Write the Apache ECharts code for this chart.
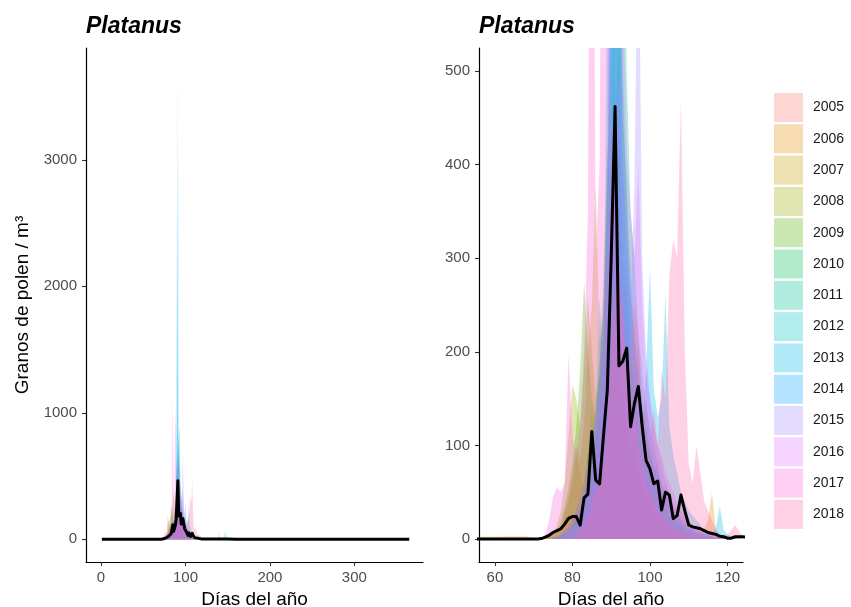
<!DOCTYPE html>
<html>
<head>
<meta charset="utf-8">
<script src="https://cdn.jsdelivr.net/npm/echarts@6/dist/echarts.min.js"></script>
<style>html,body{margin:0;padding:0;background:#fff}#c{width:851px;height:607px}</style>
</head>
<body>
<div id="c"></div>
<script>
// ---- data ----
const years = ['2005','2006','2007','2008','2009','2010','2011','2012','2013','2014','2015','2016','2017','2018'];
const yearColors = ['#F8766D','#E38900','#C49A00','#99A800','#53B400','#00BC56','#00C094','#00BFC4','#00B6EB','#06A4FF','#A58AFF','#DF70F8','#FB61D7','#FF66A8'];
// daily values for days 68..127 (60 days)
const firstDay = 68;
const y2005 = [0,0,0,0,0,0,1,2,3,5, 8,12,20,35,28,40,60,85,70,95, 130,180,260,350,420,240,280,190,160,210, 150,110,90,70,85,45,60,50,30,35, 40,25,15,12,10,8,6,4,3,2, 2,1,1,0,0,0,0,0,0,0];
const y2006 = [3,2,0,0,0,1,2,4,8,12, 30,45,60,90,70,55,100,140,90,120, 200,320,260,300,180,150,120,90,110,80, 60,45,50,30,25,35,20,15,12,10, 15,8,6,5,4,8,12,20,50,10, 4,2,1,0,0,0,0,0,0,0];
const y2007 = [0,0,0,0,0,0,1,3,5,10, 25,40,70,100,85,120,200,250,380,210, 240,300,220,180,140,160,90,70,60,45, 40,30,25,20,15,18,10,8,6,5, 4,3,2,2,1,1,0,0,0,0, 0,0,0,0,0,0,0,0,0,0];
const y2008 = [0,0,0,0,0,1,3,6,15,30, 60,110,165,150,120,180,260,200,150,170, 210,240,180,130,100,90,70,50,40,30, 25,20,15,12,10,8,6,5,4,3, 2,2,1,1,0,0,0,0,0,0, 0,0,0,0,0,0,0,0,0,0];
const y2009 = [0,0,0,0,0,0,2,5,10,18, 35,55,80,120,180,275,200,150,130,190, 280,420,350,300,220,180,150,100,80,60, 50,40,30,25,20,15,12,10,8,6, 5,4,3,2,1,1,0,0,0,0, 0,0,0,0,0,0,0,0,0,0];
const y2010 = [0,0,0,0,0,0,0,1,2,4, 8,12,20,30,45,60,90,110,140,180, 250,380,520,600,700,450,380,260,220,180, 140,110,90,80,60,50,40,30,25,20, 15,12,10,8,6,4,3,2,1,1, 0,0,0,0,0,0,0,0,0,0];
const y2011 = [0,0,0,0,0,0,0,0,1,2, 4,6,10,15,25,40,60,80,100,130, 180,260,400,650,820,900,500,350,300,220, 180,140,120,100,80,60,50,40,30,25, 20,15,12,10,8,6,4,3,2,1, 0,0,0,0,0,0,0,0,0,0];
const y2012 = [0,0,0,0,0,0,0,0,1,3, 6,10,15,25,35,50,70,90,120,170, 240,380,600,450,520,300,260,200,160,120, 100,90,70,60,50,40,30,25,20,15, 12,10,8,6,5,4,3,2,1,1, 0,0,0,0,0,0,0,0,0,0];
const y2013 = [0,0,0,0,0,0,0,1,2,4, 6,10,15,20,30,45,60,90,130,260, 180,600,2800,900,650,400,300,250,200,150, 120,180,290,160,130,150,262,120,90,70, 50,40,30,25,20,15,10,8,6,12, 35,10,5,3,2,1,0,0,0,0];
const y2014 = [0,0,0,0,0,0,0,1,2,3, 5,8,12,18,25,35,50,70,100,140, 200,350,900,3700,800,500,350,280,220,170, 140,120,100,80,70,60,50,40,30,25, 20,15,12,10,8,6,5,4,3,2, 2,1,0,0,0,0,0,0,0,0];
const y2015 = [0,0,0,0,0,0,0,0,1,2, 4,6,10,15,20,30,45,60,80,120, 200,350,700,600,480,400,300,250,380,700, 300,200,150,120,100,80,60,50,40,30, 25,20,15,12,10,8,6,4,3,2, 1,0,0,0,0,0,0,0,0,0];
const y2016 = [0,0,0,0,0,0,0,1,3,5, 10,15,20,30,45,60,80,100,130,160, 220,300,380,450,500,600,420,350,300,400, 250,180,150,120,100,90,70,60,50,40, 30,25,20,15,12,10,8,6,4,3, 2,1,0,0,0,0,0,0,0,0];
const y2017 = [0,0,0,0,0,5,20,45,55,50, 60,197,110,90,120,200,350,1160,300,400, 1080,700,450,350,300,250,200,160,130,100, 80,60,50,40,30,25,20,15,12,10, 8,6,5,4,3,2,1,0,0,0, 0,0,0,0,0,0,0,0,0,0];
const y2018 = [0,0,0,0,0,0,0,0,0,0, 0,0,2,5,10,15,25,40,50,60, 80,120,200,250,300,220,180,200,250,220, 120,150,110,140,100,180,150,280,320,300, 470,200,80,60,100,70,40,30,20,10, 5,3,5,10,15,8,3,0,0,0];
const yearValues = [y2005,y2006,y2007,y2008,y2009,y2010,y2011,y2012,y2013,y2014,y2015,y2016,y2017,y2018];
// isolated late spikes [day, value]
const lateSpikes = {'2009':[[129,0],[130,15],[131,0]], '2013':[[145,0],[146,60],[147,0],[148,80],[149,0]], '2014':[[139,0],[140,55],[141,0]]};
// mean curve [day, value]
const meanCurve = [[1,0],[71,0],[72,0.5],[73,2],[74,4],[75,7],[76,9],[77,11],[78,16],[79,22],[80,24],[81,24],[82,15],[83,44],[84,48],[85,115],[86,63],[87,59],[88,110],[89,159],[90,300],[91,462],[92,185],[93,190],[94,204],[95,120],[96,145],[97,163],[98,120],[99,84],[100,75],[101,59],[102,62],[103,31],[104,50],[105,47],[106,22],[107,25],[108,47],[109,30],[110,15],[111,13],[112,12],[113,11],[114,9],[115,7],[116,6],[117,5],[118,3],[119,2.5],[120,1],[121,1],[122,2.5],[123,2.5],[124,2.5],[125,2],[130,1.5],[140,1],[150,1],[160,0],[365,0]];
const leftXTicks = [0,100,200,300];
const leftYTicks = [0,1000,2000,3000];
const rightXTicks = [60,80,100,120];
const rightYTicks = [0,100,200,300,400,500];

// ---- chart ----
function hexA(h,a){const n=parseInt(h.slice(1),16);return 'rgba('+((n>>16)&255)+','+((n>>8)&255)+','+(n&255)+','+a+')';}
const FONT = '"Liberation Sans", Arial, sans-serif';
function yearData(i){
  const arr = yearValues[i].map((v,k)=>[firstDay+k, v]);
  let d = [[1,0]].concat(arr);
  const ex = lateSpikes[years[i]];
  if (ex) d = d.concat(ex);
  d.push([365,0]);
  return d;
}
const series = [];
[0,1].forEach(g=>{
  years.forEach((y,i)=>{
    const c = hexA(yearColors[i],0.3);
    series.push({
      name:y, type:'line', xAxisIndex:g, yAxisIndex:g, data:yearData(i),
      symbol:'none', color:c, itemStyle:{color:c},
      lineStyle:{width:0, color:c}, areaStyle:{color:c, opacity:1},
      silent:true, animation:false, clip:true, z:2
    });
  });
  series.push({
    name:'mean', type:'line', xAxisIndex:g, yAxisIndex:g, data:meanCurve,
    symbol:'none', lineStyle:{color:'#000', width:3, join:'round'}, itemStyle:{color:'#000'},
    animation:false, clip:true, z:5
  });
});
const fmt = v => String(v);
function xAx(idx,min,max,ticks){
  return {type:'value', gridIndex:idx, min:min, max:max,
    name:'Días del año', nameLocation:'middle', nameGap:25,
    nameTextStyle:{fontFamily:FONT, fontSize:19, color:'#000'},
    axisLine:{show:true, onZero:false, lineStyle:{color:'#000', width:1.2}},
    axisTick:{show:true, length:4, customValues:ticks, lineStyle:{color:'#333', width:1.1}},
    axisLabel:{customValues:ticks, formatter:fmt, margin:8, fontFamily:FONT, fontSize:15, color:'#4d4d4d'},
    splitLine:{show:false}};
}
function yAx(idx,min,max,ticks,name){
  return {type:'value', gridIndex:idx, min:min, max:max,
    name:name||'', nameLocation:'middle', nameGap:54, nameRotate:90,
    nameTextStyle:{fontFamily:FONT, fontSize:19, color:'#000'},
    axisLine:{show:true, onZero:false, lineStyle:{color:'#000', width:1.2}},
    axisTick:{show:true, length:4, customValues:ticks, lineStyle:{color:'#333', width:1.1}},
    axisLabel:{customValues:ticks, formatter:fmt, margin:9, fontFamily:FONT, fontSize:15, color:'#4d4d4d'},
    splitLine:{show:false}};
}
const chart = echarts.init(document.getElementById('c'), null, {renderer:'canvas'});
chart.setOption({
  backgroundColor:'#fff',
  animation:false,
  title:[
    {text:'Platanus', left:81, top:10, textStyle:{fontFamily:FONT, fontSize:23, fontWeight:'bold', fontStyle:'italic', color:'#000'}},
    {text:'Platanus', left:474, top:10, textStyle:{fontFamily:FONT, fontSize:23, fontWeight:'bold', fontStyle:'italic', color:'#000'}}
  ],
  grid:[
    {left:86, top:48, width:337, height:514, containLabel:false, outerBoundsMode:'none'},
    {left:479, top:48, width:264, height:514, containLabel:false, outerBoundsMode:'none'}
  ],
  xAxis:[xAx(0,-17.8,381.3,leftXTicks), xAx(1,55.9,124,rightXTicks)],
  yAxis:[yAx(0,-180,3885,leftYTicks,'Granos de polen / m³'), yAx(1,-24.5,524.5,rightYTicks)],
  legend:{
    data:years, orient:'vertical', left:769, top:88, icon:'rect',
    itemWidth:29, itemHeight:29, itemGap:2.3, selectedMode:false,
    textStyle:{fontFamily:FONT, fontSize:14, color:'#1a1a1a', padding:[0,0,0,5]}
  },
  series:series
});
</script>
</body>
</html>
